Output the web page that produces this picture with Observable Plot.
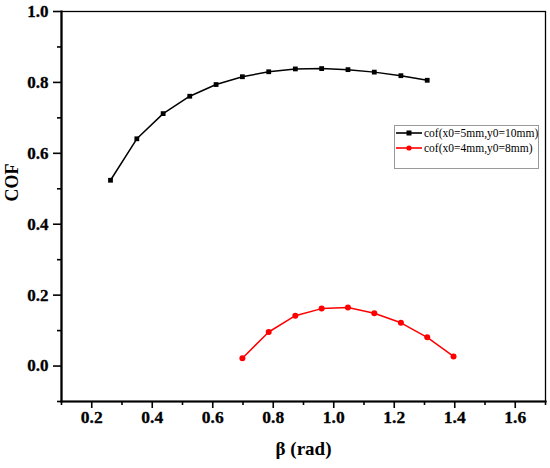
<!DOCTYPE html>
<html>
<head>
<meta charset="utf-8">
<script src="https://cdn.jsdelivr.net/npm/d3@7"></script>
<script src="https://cdn.jsdelivr.net/npm/@observablehq/plot@0.6"></script>
<style>
  body { margin: 0; background: #fff; }
  #wrap { position: relative; width: 550px; height: 468px; }
  #legend { position: absolute; left: 394px; top: 125px; }
</style>
</head>
<body>
<div id="wrap"></div>
<script>
// Series 1: cof(x0=5mm,y0=10mm)
const beta1 = [0.262, 0.349, 0.436, 0.524, 0.611, 0.698, 0.785, 0.873, 0.960, 1.047, 1.134, 1.222, 1.309];
const cof1  = [0.524, 0.641, 0.712, 0.761, 0.794, 0.816, 0.830, 0.838, 0.839, 0.836, 0.829, 0.819, 0.806];
// Series 2: cof(x0=4mm,y0=8mm)
const beta2 = [0.698, 0.785, 0.873, 0.960, 1.047, 1.134, 1.222, 1.309, 1.396];
const cof2  = [0.022, 0.096, 0.142, 0.162, 0.165, 0.149, 0.122, 0.081, 0.027];

const seriesNames = ["cof(x0=5mm,y0=10mm)", "cof(x0=4mm,y0=8mm)"];
const seriesColors = ["#000000", "#ff0000"];

const xMajor = [0.2, 0.4, 0.6, 0.8, 1.0, 1.2, 1.4, 1.6];
const xMinor = [0.1, 0.3, 0.5, 0.7, 0.9, 1.1, 1.3, 1.5, 1.7];
const yMajor = [0.0, 0.2, 0.4, 0.6, 0.8, 1.0];
const yMinor = [-0.1, 0.1, 0.3, 0.5, 0.7, 0.9];

const d1 = beta1.map((b, i) => ({beta: b, cof: cof1[i]}));
const d2 = beta2.map((b, i) => ({beta: b, cof: cof2[i]}));

const font = "'Liberation Serif', 'Times New Roman', serif";
const fmt = d3.format(".1f");

const chart = Plot.plot({
  width: 550,
  height: 468,
  marginLeft: 61,
  marginTop: 11,
  marginRight: 5,
  marginBottom: 67,
  style: {fontFamily: font, background: "#fff", color: "#000"},
  x: {domain: [0.1, 1.7]},
  y: {domain: [-0.1, 1.0]},
  marks: [
    Plot.frame({stroke: "#000", strokeWidth: 1.3}),
    Plot.frame({anchor: "left", stroke: "#000", strokeWidth: 2.2}),
    Plot.frame({anchor: "bottom", stroke: "#000", strokeWidth: 2.2}),
    // major & minor ticks
    Plot.axisX({ticks: xMajor, tickSize: 7, text: null, label: null, strokeWidth: 1.6}),
    Plot.axisX({ticks: xMinor, tickSize: 4, text: null, label: null, strokeWidth: 1.6}),
    Plot.axisY({ticks: yMajor, tickSize: 8, text: null, label: null, strokeWidth: 1.6}),
    Plot.axisY({ticks: yMinor, tickSize: 4, text: null, label: null, strokeWidth: 1.6}),
    // tick labels
    Plot.text(xMajor, {x: d => d, frameAnchor: "bottom", dy: 21, text: d => fmt(d),
      fontSize: 17.5, fontWeight: "bold", fill: "#000", stroke: "#000", strokeWidth: 0.3}),
    Plot.text(yMajor, {y: d => d, frameAnchor: "left", dx: -13, textAnchor: "end", text: d => fmt(d),
      fontSize: 17, fontWeight: "bold", fill: "#000", stroke: "#000", strokeWidth: 0.3}),
    // axis titles
    Plot.text(["COF"], {frameAnchor: "left", dx: -49, dy: -5, rotate: -90, fontSize: 18, fontWeight: "bold"}),
    Plot.text(["β (rad)"], {frameAnchor: "bottom", dy: 53, fontSize: 19, fontWeight: "bold"}),
    // data
    Plot.line(d1, {x: "beta", y: "cof", stroke: seriesColors[0], strokeWidth: 1.5}),
    Plot.dot(d1, {x: "beta", y: "cof", symbol: "square", r: 2.7, fill: seriesColors[0], stroke: "none"}),
    Plot.line(d2, {x: "beta", y: "cof", stroke: seriesColors[1], strokeWidth: 1.5}),
    Plot.dot(d2, {x: "beta", y: "cof", symbol: "circle", r: 3, fill: seriesColors[1], stroke: "none"})
  ]
});

const wrap = document.getElementById("wrap");
wrap.appendChild(chart);

// Legend box
const lg = d3.create("svg")
  .attr("id", "legend")
  .attr("width", 145)
  .attr("height", 44)
  .style("font-family", font);
lg.append("rect").attr("x", 0.5).attr("y", 0.5).attr("width", 144).attr("height", 43)
  .attr("fill", "#fff").attr("stroke", "#999").attr("stroke-width", 1);
seriesNames.forEach((name, i) => {
  const cy = 8 + i * 15;
  lg.append("line").attr("x1", 2).attr("x2", 28).attr("y1", cy).attr("y2", cy)
    .attr("stroke", seriesColors[i]).attr("stroke-width", 1.6);
  if (i === 0) {
    lg.append("rect").attr("x", 15 - 2.5).attr("y", cy - 2.5).attr("width", 5).attr("height", 5)
      .attr("fill", seriesColors[i]);
  } else {
    lg.append("circle").attr("cx", 15).attr("cy", cy).attr("r", 2.6).attr("fill", seriesColors[i]);
  }
  lg.append("text").attr("x", 30).attr("y", cy).attr("dy", "0.35em")
    .attr("font-size", 11.5).attr("font-weight", "normal").attr("fill", "#000").text(name);
});
wrap.appendChild(lg.node());
</script>
</body>
</html>
